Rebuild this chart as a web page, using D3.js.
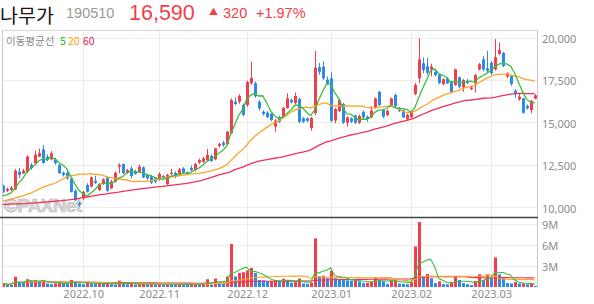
<!DOCTYPE html>
<html>
<head>
<meta charset="utf-8">
<script src="https://cdn.jsdelivr.net/npm/d3@7"></script>
<style>
  body { margin: 0; background: #fff; }
  svg { display: block; font-family: "Noto Sans CJK KR", "Noto Sans", sans-serif; }
</style>
</head>
<body>
<svg id="chart" width="594" height="304"></svg>
<script>
// 나무가 (190510) 일봉, 2022.09 ~ 2023.03
const tradingDays = {
  '2022.09': [1,2,5,6,7,8,13,14,15,16,19,20,21,22,23,26,27,28,29,30],
  '2022.10': [4,5,6,7,11,12,13,14,17,18,19,20,21,24,25,26,27,28,31],
  '2022.11': [1,2,3,4,7,8,9,10,11,14,15,16,17,18,21,22,23,24,25,28,29,30],
  '2022.12': [1,2,5,6,7,8,9,12,13,14,15,16,19,20,21,22,23,26,27,28,29],
  '2023.01': [2,3,4,5,6,9,10,11,12,13,16,17,18,19,20,25,26,27,30,31],
  '2023.02': [1,2,3,6,7,8,9,10,13,14,15,16,17,20,21,22,23,24,27,28],
  '2023.03': [2,3,6,7,8,9,10,13,14,15,16,17]
};
const labelMonths = ['2022.10','2022.11','2022.12','2023.01','2023.02','2023.03'];

const opens = [11240,10960,11000,11050,12080,11990,12080,12480,12580,12970,
  13400,12970,12810,12810,12480,12020,12020,11690,10950,10220,
  10510,11300,11200,11550,11000,11350,11750,11100,11490,12380,
  12540,12020,12280,12080,12080,12340,11890,11830,11690,11630,
  11830,11360,11950,12020,11890,12280,12050,12300,12180,12620,
  12670,12770,13010,12810,13600,13800,13700,14350,16210,16210,
  16020,16020,17300,17300,16210,15620,15560,15490,14740,15310,
  15310,15840,16310,16140,16370,15230,15230,14660,15545,18260,
  18280,17520,17590,15100,15660,16080,14970,15230,15400,14970,
  15620,15330,15290,15880,16800,15720,15430,16000,16610,15830,
  15700,15170,15300,16670,17590,18480,18300,18120,17980,17800,
  17250,17590,17400,17200,17650,17060,17450,16950,17300,18120,
  18710,18180,18510,18120,19030,19100,17690,17730,16860,16350,
  16410,15960,15720,16400];
const highs = [11320,11150,11250,12250,12300,12250,13050,12600,13320,13460,
  13660,13100,13300,12900,12550,12100,12100,11750,11050,10300,
  10950,11400,11800,11850,11400,11700,11800,11600,12100,12580,
  12560,12250,12400,12200,12500,12400,11950,11900,11750,12050,
  11900,11950,12250,12100,12300,12350,12100,12450,12600,12850,
  12950,13420,13100,13500,13800,13900,14500,16400,16450,16650,
  16100,17450,18570,17400,16300,15700,15650,15560,15200,15400,
  15900,16710,16400,16750,16450,15300,15280,15300,19200,18500,
  18600,17700,17980,15850,16400,16150,15350,15300,15450,15450,
  15700,15400,15960,16450,16850,15800,15750,16450,16700,15900,
  15750,15500,15650,17300,19950,18830,18800,18450,18050,17850,
  17600,17650,17450,18150,17700,17550,17550,17150,17850,18500,
  18900,19220,18600,19900,19700,19150,17950,17800,16950,16700,
  16450,16050,16300,16650];
const lows = [10830,10880,10950,11000,11700,11950,12000,12200,12550,12950,
  12550,12700,12750,12500,11950,11800,11600,10850,10350,10000,
  10400,10850,11150,11350,10950,11300,10900,11050,11450,11980,
  11950,11950,11700,11900,12000,11700,11600,11350,11400,11550,
  11650,11300,11850,11700,11850,11950,11900,12100,12100,12550,
  12600,12700,12650,12750,13500,13550,13650,14300,16000,16100,
  15350,15900,17200,16450,15700,15400,15250,15050,14440,14950,
  15250,15800,16100,16050,14950,14950,15000,14500,15400,17800,
  17500,17200,15000,14940,15600,14900,14740,14950,14900,14900,
  15200,15030,15250,15800,15950,15250,15350,15950,15900,15600,
  15250,15100,15250,16600,17300,17900,17800,17700,17700,17250,
  17200,17250,16700,17150,17000,16800,17250,16900,16750,18050,
  18000,17920,17800,18050,18950,18250,17600,17150,16450,16270,
  15500,15750,15530,16350];
const closes = [10900,11060,11140,12140,11890,12140,12970,12300,13070,13170,
  12600,12770,13170,12580,12000,11890,11690,10900,10400,10120,
  10900,10900,11750,11430,11360,11630,10960,11500,12020,12480,
  11990,12180,11830,11950,12380,11750,11690,11430,11490,11950,
  11690,11890,12020,11790,12220,12020,11950,12180,12540,12770,
  12870,13070,12730,13460,13720,13650,14440,16310,16080,16550,
  15430,17370,17600,16530,15820,15490,15310,15130,15100,15030,
  15840,16410,16180,16550,15030,15030,15090,15250,18220,17980,
  17590,17300,15090,15780,16310,14970,15290,15030,14970,15370,
  15290,15180,15680,16410,16020,15330,15680,16410,15960,15680,
  15290,15430,15600,17200,18710,18080,17920,18280,17790,17320,
  17540,17300,16780,18120,17100,17490,17330,17060,17790,18420,
  18120,18040,17890,18830,19260,18320,17890,17260,16670,16510,
  15560,15820,16270,16590];
// 거래량 (백만주)
const volumes = [0.50,0.35,0.30,1.45,0.70,0.60,1.10,0.80,1.00,0.70,
  1.00,0.50,0.40,0.50,0.70,0.50,0.45,1.00,0.70,0.50,
  0.40,0.60,0.50,0.45,0.55,0.45,0.50,0.40,0.35,0.90,
  0.45,0.40,0.45,0.35,0.40,0.50,0.40,0.45,0.35,0.40,
  0.35,0.45,0.40,0.35,0.45,0.35,0.30,0.40,0.45,0.40,
  0.50,1.10,0.35,1.20,0.60,0.55,1.50,6.10,1.50,2.00,
  2.10,2.35,2.70,2.00,1.00,0.95,0.80,0.85,1.00,0.75,
  1.15,1.00,0.60,0.70,1.20,0.50,0.45,0.65,6.90,1.50,
  1.60,1.25,2.30,1.25,1.10,1.00,0.95,0.90,1.00,0.80,
  0.55,0.60,0.70,1.25,1.00,0.80,0.45,1.00,1.10,0.50,
  0.45,0.40,0.70,5.75,9.20,1.55,1.85,1.25,0.55,0.80,
  0.40,0.38,0.70,1.45,1.00,0.55,0.40,0.30,0.85,1.80,
  1.00,1.80,1.25,4.20,1.80,1.35,0.55,0.50,0.70,0.50,
  0.55,0.40,0.45,0.15];

// 이평선 앞부분 (차트 이전 데이터가 필요한 구간, 그림에서 읽은 값)
const ma5Lead = [10650,10720,10820,11050];
const ma20Lead = [10350,10410,10470,10530,10590,10660,10740,10820,10930,11050,
  11160,11240,11320,11400,11520,11650,11780,11850,11860];
const ma60Lead = [10150,10160,10170,10180,10190,10200,10210,10230,10240,10260,
  10280,10300,10320,10340,10360,10380,10400,10430,10470,10510,
  10550,10590,10630,10670,10710,10750,10780,10820,10850,10880,
  10920,10950,10990,11020,11050,11080,11110,11140,11170,11200,
  11220,11250,11280,11310,11340,11370,11400,11440,11480,11530,
  11590,11660,11730,11810,11890,11960,12020,12070,12200];

const priceTicks = [10000,12500,15000,17500,20000];
const volTicks = [3,6,9];

const red = '#f23d4c', blue = '#2d8ae8';
const maColors = { 5: '#3cbf3c', 20: '#ffa42a', 60: '#f03158' };

const dates = [];
Object.entries(tradingDays).forEach(([m, days]) => {
  days.forEach(d => dates.push(m + '.' + String(d).padStart(2, '0')));
});
const monthStarts = labelMonths.map(m => dates.find(d => d.startsWith(m)));

function movingAvg(vals, n, lead) {
  return vals.map((v, i) => {
    if (i >= n - 1) return d3.mean(vals.slice(i - n + 1, i + 1));
    if (lead) return lead[i];
    return d3.mean(vals.slice(0, i + 1));
  });
}

const svg = d3.select('#chart');
const pLeft = 2, pRight = 537, pTop = 30, pMid = 217, pBottom = 287;

const x = d3.scalePoint().domain(dates).range([2.7, 2.7 + 4 * (dates.length - 1)]);
const y = d3.scaleLinear().domain([10000, 20000]).range([207, 37.5]);
const yv = d3.scaleLinear().domain([0, 9]).range([pBottom, 223.5]);
const px = d => Math.round(x(d));

const defs = svg.append('defs');
defs.append('clipPath').attr('id', 'clipMain')
  .append('rect').attr('x', pLeft).attr('y', pTop).attr('width', pRight - pLeft).attr('height', pMid - pTop);
defs.append('clipPath').attr('id', 'clipVol')
  .append('rect').attr('x', pLeft).attr('y', pMid + 1).attr('width', pRight - pLeft).attr('height', pBottom - pMid - 1);

// header
const numFont = '"Liberation Sans", Arial, sans-serif';
const head = svg.append('g');
head.append('text').attr('x', 0).attr('y', 22.5).attr('font-size', 19.5).attr('fill', '#151515').text('나무가');
head.append('text').attr('x', 66).attr('y', 17.5).attr('font-size', 14.5).attr('fill', '#9a9a9a')
  .attr('font-family', numFont).text('190510');
head.append('text').attr('x', 129).attr('y', 19.5).attr('font-size', 21.5).attr('fill', red)
  .attr('font-family', numFont).text('16,590');
head.append('text').attr('x', 209).attr('y', 15).attr('font-size', 9).attr('fill', red).text('▲');
head.append('text').attr('x', 223).attr('y', 17.5).attr('font-size', 14.5).attr('fill', red)
  .attr('font-family', numFont).text('320');
head.append('text').attr('x', 256).attr('y', 17.5).attr('font-size', 14.5).attr('fill', red)
  .attr('font-family', numFont).text('+1.97%');

// grid
const grid = svg.append('g').attr('stroke', '#ececec').attr('stroke-width', 1);
monthStarts.forEach(d => {
  grid.append('line').attr('x1', px(d) + 0.5).attr('x2', px(d) + 0.5).attr('y1', pTop).attr('y2', pBottom);
});
priceTicks.forEach(v => {
  grid.append('line').attr('x1', pLeft).attr('x2', pRight)
    .attr('y1', Math.round(y(v)) + 0.5).attr('y2', Math.round(y(v)) + 0.5);
});
volTicks.forEach(v => {
  grid.append('line').attr('x1', pLeft).attr('x2', pRight)
    .attr('y1', Math.round(yv(v)) + 0.5).attr('y2', Math.round(yv(v)) + 0.5);
});

// watermark
svg.append('text').attr('x', 4).attr('y', 212).attr('font-family', numFont)
  .attr('font-weight', 'bold').attr('font-size', 19).attr('textLength', 78)
  .attr('fill', '#d6d6d6').attr('stroke', '#bcbcbc').attr('stroke-width', 0.6)
  .text('©PAXNet');

// legend
const lg = svg.append('g').attr('font-size', 10.5);
lg.append('text').attr('x', 6).attr('y', 45).attr('fill', '#8a8a8a').text('이동평균선');
lg.append('text').attr('x', 60).attr('y', 45).attr('fill', '#22b422').text('5');
lg.append('text').attr('x', 68).attr('y', 45).attr('fill', '#ffa000').text('20');
lg.append('text').attr('x', 83).attr('y', 45).attr('fill', '#e8174a').text('60');

// candles
const main = svg.append('g').attr('clip-path', 'url(#clipMain)');
const candles = main.selectAll('g.c').data(dates).join('g').attr('class', 'c');
candles.append('line')
  .attr('x1', d => px(d) + 0.5).attr('x2', d => px(d) + 0.5)
  .attr('y1', (d, i) => y(highs[i])).attr('y2', (d, i) => y(lows[i]))
  .attr('stroke', (d, i) => closes[i] >= opens[i] ? red : blue).attr('stroke-width', 1);
candles.append('rect')
  .attr('x', d => px(d) - 1).attr('width', 3)
  .attr('y', (d, i) => y(Math.max(opens[i], closes[i])))
  .attr('height', (d, i) => Math.max(1, Math.abs(y(opens[i]) - y(closes[i]))))
  .attr('fill', (d, i) => closes[i] >= opens[i] ? red : blue);

const priceLine = d3.line().x((d, i) => x(dates[i])).y(d => y(d));
[[60, ma60Lead], [20, ma20Lead], [5, ma5Lead]].forEach(([n, lead]) => {
  main.append('path').datum(movingAvg(closes, n, lead))
    .attr('fill', 'none').attr('stroke', maColors[n]).attr('stroke-width', 1.3)
    .attr('d', priceLine);
});

// volume
const vol = svg.append('g').attr('clip-path', 'url(#clipVol)');
vol.selectAll('rect').data(volumes).join('rect')
  .attr('x', (d, i) => px(dates[i]) - 1).attr('width', 3)
  .attr('y', d => yv(d)).attr('height', d => pBottom - yv(d))
  .attr('fill', (d, i) => (i === 0 || d >= volumes[i - 1]) ? red : blue);
const volLine = d3.line().x((d, i) => x(dates[i])).y(d => yv(d));
[60, 20, 5].forEach(n => {
  vol.append('path').datum(movingAvg(volumes, n))
    .attr('fill', 'none').attr('stroke', maColors[n]).attr('stroke-width', 1.1)
    .attr('d', volLine);
});

// frame
svg.append('line').attr('x1', pLeft).attr('x2', pRight).attr('y1', pTop + 0.5).attr('y2', pTop + 0.5).attr('stroke', '#d8d8d8');
svg.append('line').attr('x1', pLeft + 0.5).attr('x2', pLeft + 0.5).attr('y1', pTop).attr('y2', pBottom).attr('stroke', '#c8c8c8');
svg.append('line').attr('x1', pRight + 0.5).attr('x2', pRight + 0.5).attr('y1', pTop).attr('y2', pBottom).attr('stroke', '#c8c8c8');
svg.append('line').attr('x1', 0).attr('x2', pRight + 1).attr('y1', pMid + 0.5).attr('y2', pMid + 0.5)
  .attr('stroke', '#444').attr('stroke-width', 1.5);

// axes
const yAxis = svg.append('g').attr('transform', 'translate(542,1.5)')
  .call(d3.axisRight(y).tickValues(priceTicks).tickFormat(d3.format(',')).tickSize(0).tickPadding(0));
const vAxis = svg.append('g').attr('transform', 'translate(542,1)')
  .call(d3.axisRight(yv).tickValues(volTicks).tickFormat(d => d + 'M').tickSize(0).tickPadding(0));
const xAxis = svg.append('g').attr('transform', 'translate(0,290)')
  .call(d3.axisBottom(x).tickValues(monthStarts).tickFormat(d => d.slice(0, 7)).tickSize(0).tickPadding(0));
[yAxis, vAxis, xAxis].forEach(a => {
  a.select('.domain').remove();
  a.selectAll('text').attr('fill', '#8c8c8c').attr('font-size', 11)
    .attr('font-family', '"Noto Sans", sans-serif');
});
xAxis.selectAll('text').attr('x', 0.5);
</script>
</body>
</html>
